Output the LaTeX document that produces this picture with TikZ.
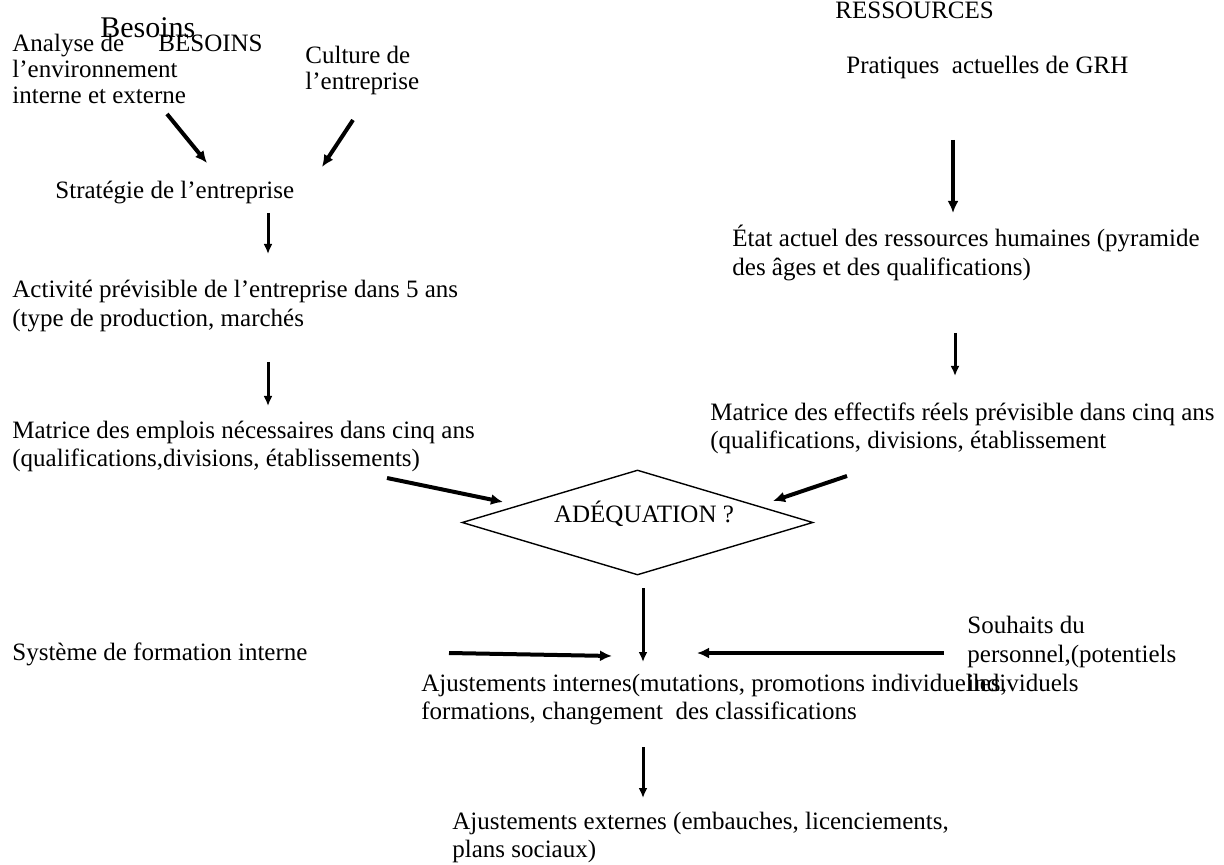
\documentclass[tikz,border=0pt]{standalone}
\usepackage{fontspec}
\setmainfont{Liberation Serif}
\usetikzlibrary{arrows.meta,shapes.geometric}
\begin{document}
% multi-line nodes are placed by the baseline of their last line
\begin{tikzpicture}[x=0.5pt,y=-0.5pt,
  txt/.style={anchor=base west,inner sep=0pt,align=left,font=\fontsize{12.5}{14.4}\selectfont},
  tight/.style={txt,font=\fontsize{12.5}{13.1}\selectfont},
  big/.style={anchor=base west,inner sep=0pt,font=\fontsize{15}{17}\selectfont},
  varr/.style={line width=1.5pt,-{Latex[length=5pt,width=4.5pt]}},
  darr/.style={line width=2pt,-{Latex[length=6pt,width=5.5pt]}},
  dia/.style={draw,diamond,shape aspect=3.3,minimum width=175.5pt,minimum height=52.5pt,inner sep=0pt,line width=0.7pt}
]
\useasboundingbox (0,0) rectangle (1224,865);
\fill[white] (0,0) rectangle (1224,865);

% needs side
\node[big] (besoins) at (100,38) {Besoins};
\node[tight] (analyse) at (12,104) {Analyse de\\l’environnement\\interne et externe};
\node[txt] (besoinscap) at (158,51.6) {BESOINS};
\node[tight] (culture) at (305,90) {Culture de\\l’entreprise};
\node[txt] (strat) at (55,198.6) {Stratégie de l’entreprise};
\node[txt] (activite) at (12,326.8) {Activité prévisible de l’entreprise dans 5 ans\\(type de production, marchés};
\node[txt] (matemp) at (12,466.8) {Matrice des emplois nécessaires dans cinq ans\\(qualifications,divisions, établissements)};

% resources side
\node[txt] (ressources) at (835,19) {RESSOURCES};
\node[txt] (pratiques) at (846,74) {Pratiques\ \ actuelles de GRH};
\node[txt] (etat) at (732,275.8) {État actuel des ressources humaines (pyramide\\des âges et des qualifications)};
\node[txt] (mateff) at (710,448.8) {Matrice des effectifs réels prévisible dans cinq ans\\(qualifications, divisions, établissement};

% decision
\node[dia] (adeq) at (637.5,522.5) {};
\node[txt,anchor=base] (adeqtxt) at (644,522) {ADÉQUATION ?};

% adjustments
\node[txt] (formation) at (12,660) {Système de formation interne};
\node[txt] (souhaits) at (967,691) {Souhaits du\\personnel,(potentiels\\individuels};
\node[txt] (ajint) at (421,719.8) {Ajustements internes(mutations, promotions individuelles,\\formations, changement\ \ des classifications};
\node[txt] (ajext) at (452,857.8) {Ajustements externes (embauches, licenciements,\\plans sociaux)};

% arrow end points
\coordinate (a1s) at (167,114); \coordinate (a1e) at (207,163);
\coordinate (a2s) at (353,120); \coordinate (a2e) at (322,167);
\coordinate (a3s) at (268,213); \coordinate (a3e) at (268,254);
\coordinate (a4s) at (268,362); \coordinate (a4e) at (268,406);
\coordinate (a5s) at (387,478); \coordinate (a5e) at (503,502);
\coordinate (a6s) at (847,476); \coordinate (a6e) at (773,501);
\coordinate (a7s) at (953,140); \coordinate (a7e) at (953,213);
\coordinate (a8s) at (955,333); \coordinate (a8e) at (955,376);
\coordinate (a9s) at (643,588); \coordinate (a9e) at (643,662);
\coordinate (a10s) at (449,653); \coordinate (a10e) at (612,656);
\coordinate (a11s) at (944,653); \coordinate (a11e) at (697,653);
\coordinate (a12s) at (643,747); \coordinate (a12e) at (643,798);

\draw[darr] (a1s) -- (a1e);
\draw[darr] (a2s) -- (a2e);
\draw[varr] (a3s) -- (a3e);
\draw[varr] (a4s) -- (a4e);
\draw[darr] (a5s) -- (a5e);
\draw[darr] (a6s) -- (a6e);
\draw[darr] (a7s) -- (a7e);
\draw[varr] (a8s) -- (a8e);
\draw[varr] (a9s) -- (a9e);
\draw[darr] (a10s) -- (a10e);
\draw[darr] (a11s) -- (a11e);
\draw[varr] (a12s) -- (a12e);
\end{tikzpicture}
\end{document}
